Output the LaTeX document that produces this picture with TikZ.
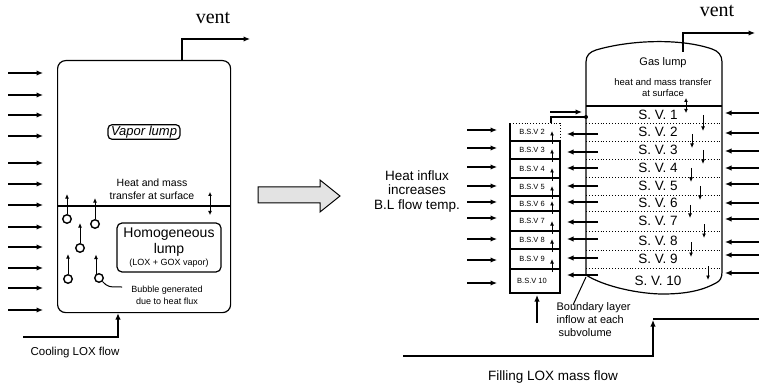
\documentclass[tikz,border=0pt]{standalone}
\usepackage{fontspec}
\setmainfont{Liberation Sans}
\newfontfamily\ventfont{Liberation Serif}
\usetikzlibrary{arrows.meta}
\newcommand\fsz[2]{\fontsize{#1}{#2}\selectfont}
\begin{document}
\begin{tikzpicture}[x=1pt,y=-1pt, line width=1.2pt,
  arr/.style={-{Latex[length=6.5pt,width=5.5pt]}},
  sarr/.style={-{Latex[length=4.5pt,width=4pt]}, line width=1pt},
  dbl/.style={{Latex[length=4pt,width=4pt]}-{Latex[length=4pt,width=4pt]}, line width=1pt},
  lbl/.style={inner sep=0pt, align=center},
  sv/.style={inner sep=0pt, font=\fsz{13.5}{15}},
  bsv/.style={inner sep=0pt, font=\fsz{7.5}{9}},
  bub/.style={circle, draw, line width=1.4pt, minimum size=8.5, inner sep=0pt},
  sep/.style={dotted, line width=0.9pt},
]
\useasboundingbox (0,0) rectangle (759,387);

% ---------------- left tank ----------------
\node[draw, rounded corners=8, minimum width=173, minimum height=252, anchor=north west, inner sep=0pt] (tankL) at (57,60) {};
\draw (57,206) -- (230,206);
\coordinate (ventLa) at (182,60);
\coordinate (ventLb) at (250,39);
\draw[arr] (ventLa) |- (ventLb);
\node[lbl, font=\ventfont\fsz{20}{22}] (ventL) at (213,18) {vent};

\foreach \y in {73,95,115,136,163,184,205,227,247,268,288,310}
  \draw[arr] (8,\y) -- (43,\y);

\node[draw, rounded corners=4, inner xsep=3pt, inner ysep=1.2pt, font=\itshape\fsz{13}{15}] (vapor) at (144,132) {Vapor lump};
\node[lbl, font=\fsz{10.5}{13}] (hmL) at (152,189.5) {Heat and mass\\transfer at surface};
\draw[dbl] (210,192) -- (210,215);

\node[draw, rounded corners=5, minimum width=104, minimum height=49, inner sep=0pt] (homog) at (169,247.5) {};
\node[lbl, font=\fsz{14}{16}] at (169,234) {Homogeneous};
\node[lbl, font=\fsz{14}{16}] at (169,250) {lump};
\node[lbl, font=\fsz{9}{11}] at (169,263) {(LOX + GOX vapor)};

\node[bub] (b1) at (67,219) {};
\node[bub] (b2) at (80,248) {};
\node[bub] (b3) at (95,224) {};
\node[bub] (b4) at (68,279) {};
\node[bub] (b5) at (99,278) {};
\draw[sarr] (b1.north) -- ++(0,-20);
\draw[sarr] (b2.north) -- ++(0,-20);
\draw[sarr] (b3.north) -- ++(0,-21);
\draw[sarr] (b4.north) -- ++(0,-20);
\draw[sarr] (b5.north west) ++(0.5,0) -- ++(0,-20);
\node[lbl, font=\fsz{9}{12}] (bubtxt) at (167,295) {Bubble generated\\due to heat flux};
\draw[line width=1pt] (b5.south east) .. controls (108,287) .. (122,287);

\coordinate (coolA) at (23,337);
\draw[arr] (coolA) -| (tankL.south -| 118,0);
\node[lbl, font=\fsz{11.5}{13}] (cool) at (75,353) {Cooling LOX flow};

% ---------------- hollow arrow ----------------
\draw[fill=gray!22, line width=1pt] (258,187) -- (320,187) -- (320,180) -- (340,196) -- (320,212) -- (320,203) -- (258,203) -- cycle;

\node[lbl, font=\fsz{13.5}{14.5}] (influx) at (417,191.5) {Heat influx\\increases\\B.L flow temp.};

% ---------------- boundary sub-volumes ----------------
\foreach \y in {130,148,167,186,202,218,239,260,283}
  \draw[arr] (467,\y) -- (497,\y);

\draw (560,141) -- (560,293) -- (510,293) -- (510,123);
\draw[sep] (510,123) -- (560,123) -- (560,141);
\foreach \y in {141,159,178,196,211,231,249,269}
  \draw (510,\y) -- (560,\y);
\foreach \t/\y in {2/132,3/150,4/168.5,5/187,6/203.5,7/221,8/240,9/259,10/281}
  \node[bsv] at (532,\y) {B.S.V \t};
\foreach \y in {141,159,178,196,211,231,249,269}
  \draw[sarr] (552,\y+3) -- (552,\y-10);

\coordinate (top) at (551,123);
\coordinate (junc) at (586,117);
\draw (top) |- (junc);
\fill (junc) circle (2);
\draw[arr] (550,112) -- (582,112);

% ---------------- right vessel ----------------
\draw (586,275) -- (586,62) .. controls (586,55) and (590,52) .. (596,50)
  .. controls (630,40) and (680,38) .. (712,49) .. controls (718,51) and (722,55) .. (722,62)
  -- (722,272) .. controls (722,278) and (720,281) .. (716,283)
  .. controls (705,289) and (690,294) .. (663,294)
  .. controls (640,294) and (605,287) .. (586,275);
\draw (586,106) -- (722,106);
\foreach \y in {123,141,159,177,195,211,231,250,268}
  \draw[sep] (586,\y) -- (722,\y);

\node[lbl, font=\fsz{11}{13}] (gas) at (663,63) {Gas lump};
\node[lbl, font=\fsz{9.5}{11}] (hmR) at (663,87.5) {heat and mass transfer\\at surface};
\draw[dbl] (686,98) -- (686,113);

\coordinate (ventRa) at (683,52);
\coordinate (ventRb) at (755,33);
\draw[arr] (ventRa) |- (ventRb);
\node[lbl, font=\ventfont\fsz{20}{22}] (ventR) at (717,11) {vent};

\foreach \t/\y in {1/114.5,2/132,3/150,4/168,5/186,6/203,7/221,8/240.5,9/259,10/281}
  \node[sv] at (658,\y) {S. V. \t};

\foreach \x/\ya/\yb in {703/115/131,692/134/148,703/150/164,691/168/182,700/186/200,690/205/218,704/224/238,691/242/257,708/266/280}
  \draw[sarr] (\x,\ya) -- (\x,\yb);

\foreach \y in {113,133,151,168,184,203,219,242,255,273}
  \draw[arr] (759,\y) -- (725,\y);

\foreach \y in {134,152,168,186,202,222,239,258,275}
  \draw[arr] (598,\y) -- (567,\y);

\coordinate (blfoot) at (586,277);
\draw[line width=1pt] (blfoot) -- (573,305);
\node[anchor=west, align=left, inner sep=0pt, font=\fsz{11}{13}] (bl) at (556,320) {Boundary layer\\inflow at each\\\hspace*{2pt}subvolume};

\draw[arr] (537,323) -- (537,295);

\coordinate (fillA) at (403,356);
\coordinate (fillB) at (653,320);
\draw[arr] (fillA) -| (fillB);
\draw (653,319) -- (759,319);
\node[lbl, font=\fsz{13.5}{15}] (filltxt) at (553,377) {Filling LOX mass flow};
\end{tikzpicture}
\end{document}
